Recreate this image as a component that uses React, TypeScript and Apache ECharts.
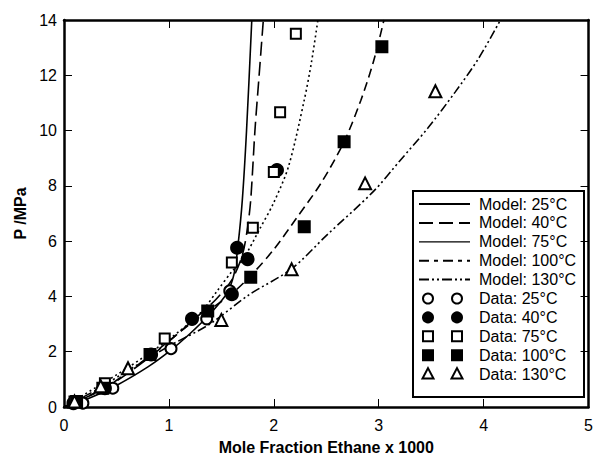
import React, { useEffect, useRef } from "react";
import * as echarts from "echarts";

// Model curves: [mole fraction x1000, P/MPa]
const model25: number[][] = [[0,0],[0.2,0.25],[0.5,0.78],[0.8,1.45],[1.0,2.0],[1.2,2.65],[1.4,3.4],[1.55,4.1],[1.62,4.8],[1.66,5.9],[1.7,7.5],[1.74,10],[1.79,14]];
const model40: number[][] = [[0,0],[0.4,0.7],[0.83,1.85],[1.22,3.1],[1.45,3.9],[1.6,4.6],[1.7,5.5],[1.75,6.5],[1.78,7.5],[1.82,10],[1.86,12],[1.9,14]];
const model75: number[][] = [[0,0],[0.3,0.7],[0.6,1.4],[1.0,2.45],[1.3,3.4],[1.46,4.2],[1.6,4.9],[1.7,5.3],[1.86,6.4],[2.0,7.4],[2.14,8.7],[2.29,11.1],[2.36,12.5],[2.42,14]];
const model100: number[][] = [[0,0],[0.4,0.72],[0.82,1.85],[1.2,3.0],[1.4,3.55],[1.6,4.1],[1.78,4.75],[2.0,5.7],[2.21,6.8],[2.45,8.1],[2.67,9.6],[2.83,11.1],[2.95,12.5],[3.05,14]];
const model130: number[][] = [[0,0],[0.3,0.6],[0.6,1.3],[1.0,2.2],[1.39,3.0],[1.76,4.05],[2.17,5.0],[2.5,6.2],[2.95,7.8],[3.2,8.9],[3.47,10.1],[3.73,11.4],[3.95,12.6],[4.16,14]];

// Experimental data
const data25: number[][] = [[0.18,0.14],[0.465,0.68],[1.02,2.11],[1.36,3.19],[1.58,4.2]];
const data40: number[][] = [[0.09,0.14],[0.39,0.68],[0.83,1.9],[1.22,3.19],[1.6,4.08],[1.65,5.76],[1.75,5.35],[2.03,8.57]];
const data75: number[][] = [[0.1,0.2],[0.39,0.86],[0.96,2.48],[1.6,5.23],[1.8,6.48],[2.0,8.5],[2.06,10.66],[2.21,13.5]];
const data100: number[][] = [[0.12,0.2],[0.37,0.68],[0.82,1.9],[1.37,3.47],[1.78,4.69],[2.29,6.52],[2.67,9.6],[3.03,13.03]];
const data130: number[][] = [[0.1,0.2],[0.35,0.75],[0.61,1.4],[1.5,3.15],[2.17,4.98],[2.87,8.09],[3.54,11.42]];

const modelNames = ["Model: 25°C", "Model: 40°C", "Model: 75°C", "Model: 100°C", "Model: 130°C"];
const dataNames = ["Data: 25°C", "Data: 40°C", "Data: 75°C", "Data: 100°C", "Data: 130°C"];
const xTicks = [0, 1, 2, 3, 4, 5];
const yTicks = [0, 2, 4, 6, 8, 10, 12, 14];

const FONT = "'Liberation Sans', Arial, Helvetica, sans-serif";

export default function App() {
  const ref = useRef<HTMLDivElement>(null);
  useEffect(() => {
    if (!ref.current) return;
    document.body.style.margin = "0";
    document.body.style.overflow = "hidden";
    const chart = echarts.init(ref.current, null, { renderer: "svg" });

    const lineDefs = [
      { d: model25, dash: "solid" as any, w: 1.6 },
      { d: model40, dash: [14, 6], w: 1.6 },
      { d: model75, dash: [2, 3], w: 1.6 },
      { d: model100, dash: [9, 5], w: 1.6 },
      { d: model130, dash: [9, 3, 2, 3, 2, 3], w: 1.6 },
    ];
    const legendLineDash: any[] = ["solid", [14, 6], "solid", [10, 5, 4, 5], [10, 3, 2, 3, 2, 3]];

    const dataDefs = [
      { d: data25, sym: "circle", fill: "#fff", size: 11 },
      { d: data40, sym: "circle", fill: "#000", size: 12 },
      { d: data75, sym: "rect", fill: "#fff", size: 10 },
      { d: data100, sym: "rect", fill: "#000", size: 11 },
      { d: data130, sym: "triangle", fill: "#fff", size: 12 },
    ];

    const series: any[] = [];
    lineDefs.forEach((l, i) => {
      series.push({
        name: modelNames[i],
        type: "line",
        data: l.d,
        showSymbol: false,
        smooth: 0.3,
        lineStyle: { color: "#000", width: l.w, type: l.dash },
        z: 2,
        silent: true,
      });
    });
    dataDefs.forEach((s, i) => {
      series.push({
        name: dataNames[i],
        type: "scatter",
        data: s.d,
        symbol: s.sym,
        symbolSize: s.size,
        itemStyle: { color: s.fill, borderColor: "#000", borderWidth: 2, opacity: 1 },
        z: 3,
      });
    });

    // Legend drawn as graphic
    const lx = 413, ly = 191, lw = 171, lh = 206;
    const rowY0 = 204, rowH = 18.9;
    const children: any[] = [];
    children.push({ type: "rect", shape: { x: lx, y: ly, width: lw, height: lh }, style: { fill: "#fff", stroke: "#000", lineWidth: 2 } });
    modelNames.forEach((n, i) => {
      const y = rowY0 + i * rowH;
      children.push({ type: "line", shape: { x1: 419, y1: y, x2: 470, y2: y }, style: { stroke: "#000", lineWidth: i === 2 ? 1.3 : 2, lineDash: legendLineDash[i] === "solid" ? null : legendLineDash[i] } });
      children.push({ type: "text", x: 479, y: y, style: { text: n, fontSize: 16, fontFamily: FONT, fill: "#000", verticalAlign: "middle" } });
    });
    dataNames.forEach((n, i) => {
      const y = rowY0 + (i + 5) * rowH;
      [428, 457].forEach((cx) => {
        const s = dataDefs[i];
        if (s.sym === "circle") {
          children.push({ type: "circle", shape: { cx, cy: y, r: 5 }, style: { fill: s.fill, stroke: "#000", lineWidth: 2 } });
        } else if (s.sym === "rect") {
          children.push({ type: "rect", shape: { x: cx - 5, y: y - 5, width: 10, height: 10 }, style: { fill: s.fill, stroke: "#000", lineWidth: 2 } });
        } else {
          children.push({ type: "polygon", shape: { points: [[cx, y - 6], [cx + 5.5, y + 4.5], [cx - 5.5, y + 4.5]] }, style: { fill: s.fill, stroke: "#000", lineWidth: 2 } });
        }
      });
      children.push({ type: "text", x: 479, y: y, style: { text: n, fontSize: 16, fontFamily: FONT, fill: "#000", verticalAlign: "middle" } });
    });

    const axisCommon = {
      type: "value",
      axisLine: { show: true, onZero: false, lineStyle: { color: "#000", width: 2.5 } },
      axisTick: { show: true, inside: true, length: 8, lineStyle: { color: "#000", width: 1 } },
      splitLine: { show: false },
    };

    chart.setOption({
      animation: false,
      backgroundColor: "#fff",
      textStyle: { fontFamily: FONT },
      grid: { left: 64, right: 5, top: 20, bottom: 47, containLabel: false },
      xAxis: [
        {
          ...axisCommon,
          min: xTicks[0], max: xTicks[xTicks.length - 1], interval: 1,
          name: "Mole Fraction Ethane x 1000",
          nameLocation: "middle",
          nameGap: 32,
          nameTextStyle: { fontSize: 16, fontWeight: "bold", color: "#000", fontFamily: FONT },
          axisLabel: { fontSize: 16, color: "#000", margin: 10, fontFamily: FONT },
        },
        { ...axisCommon, position: "top", min: 0, max: 5, interval: 1, axisLabel: { show: false } },
      ],
      yAxis: [
        {
          ...axisCommon,
          min: yTicks[0], max: yTicks[yTicks.length - 1], interval: 2,
          name: "P /MPa",
          nameLocation: "middle",
          nameGap: 31,
          nameTextStyle: { fontSize: 16, fontWeight: "bold", color: "#000", fontFamily: FONT },
          axisLabel: { fontSize: 16, color: "#000", margin: 7, fontFamily: FONT },
        },
        { ...axisCommon, position: "right", min: 0, max: 14, interval: 2, axisLabel: { show: false } },
      ],
      series,
      graphic: [{ type: "group", z: 100, children }],
    });

    return () => chart.dispose();
  }, []);
  return <div ref={ref} style={{ position: "absolute", left: 0, top: 0, width: 596, height: 460 }} />;
}
